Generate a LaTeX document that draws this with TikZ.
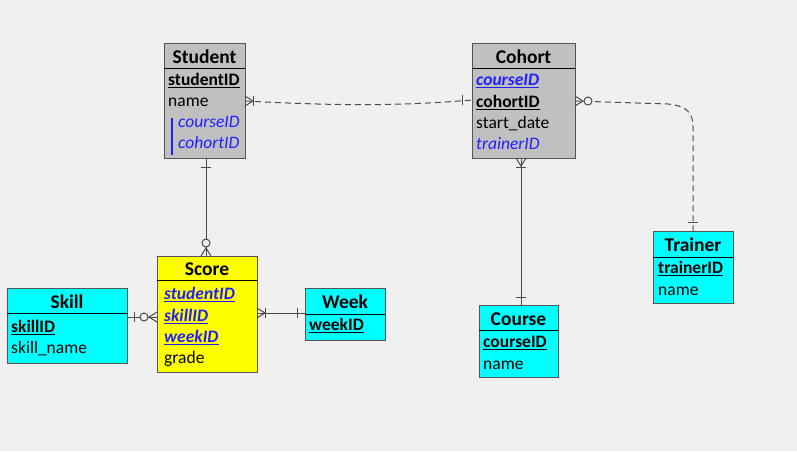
\documentclass[tikz,border=0pt]{standalone}
\usepackage{fontspec}
\setmainfont{Carlito}
\definecolor{bg}{HTML}{F0F0F0}
\definecolor{grayfill}{HTML}{C0C0C0}
\definecolor{cyanfill}{HTML}{00FFFF}
\definecolor{yellowfill}{HTML}{FFFF00}
\definecolor{fkblue}{HTML}{2020FF}
\definecolor{linegray}{HTML}{4A4A4A}
\definecolor{bordergray}{HTML}{555555}
\newcommand\keyul[1]{\setbox0\hbox{#1}\rlap{\usebox0}\rule[-3.2pt]{\wd0}{1.2pt}}
\newcommand\crowft[2]{\draw[conn,shift={(#1)},rotate=#2] (0,-5) -- (8,0) -- (0,5);}
\newcommand\erbar[3]{\draw[conn,shift={(#1)},rotate=#2] (#3,-5) -- (#3,5);}
\newcommand\ercirc[3]{\filldraw[conn,fill=bg,shift={(#1)},rotate=#2] (#3,0) circle[radius=4pt];}
\tikzset{
  tbl/.style={draw=bordergray, line width=1pt, anchor=north west, inner sep=0pt, outer sep=0pt},
  hdr/.style={anchor=base, font=\fontsize{19.5}{22}\selectfont\bfseries, inner sep=0pt},
  fld/.style={anchor=base west, font=\fontsize{17.5}{20}\selectfont, inner sep=0pt},
  hline/.style={draw=black, line width=1pt},
  conn/.style={draw=linegray, line width=1pt},
  dconn/.style={conn, dash pattern=on 6pt off 4pt},
  fk/.style={text=fkblue, font=\fontsize{17.5}{20}\selectfont\itshape},
  pfk/.style={text=fkblue, font=\fontsize{17.5}{20}\selectfont\bfseries\itshape},
  pk/.style={font=\fontsize{17.5}{20}\selectfont\bfseries}
}
\begin{document}
\begin{tikzpicture}[x=1pt,y=-1pt]
\fill[bg] (0,0) rectangle (797,451);
\useasboundingbox (0,0) rectangle (797,451);

% Student
\node[tbl, fill=grayfill, minimum width=81pt, minimum height=115pt] (student) at (164,43) {};
\draw[hline] (student.west |- 0,68) -- (student.east |- 0,68);
\node[hdr] (studenth) at (204.5,63) {Student};
\node[fld,pk] (st1) at (168,85) {\keyul{studentID}};
\node[fld] (st2) at (168,106) {name};
\node[fld,fk] (st3) at (178,127) {courseID};
\node[fld,fk] (st4) at (178,148) {cohortID};
\draw[fkblue, line width=2pt] (172,118) -- (172,155);

% Cohort
\node[tbl, fill=grayfill, minimum width=103pt, minimum height=115pt] (cohort) at (472,43) {};
\draw[hline] (cohort.west |- 0,68) -- (cohort.east |- 0,68);
\node[hdr] (cohorth) at (523.5,63) {Cohort};
\node[fld,pfk] (co1) at (476,85) {\keyul{courseID}};
\node[fld,pk] (co2) at (476,107) {\keyul{cohortID}};
\node[fld] (co3) at (476,128) {start\_date};
\node[fld,fk] (co4) at (476,149) {trainerID};

% Score
\node[tbl, fill=yellowfill, minimum width=100pt, minimum height=116pt] (score) at (157,256) {};
\draw[hline] (score.west |- 0,280.5) -- (score.east |- 0,280.5);
\node[hdr] (scoreh) at (207,275) {Score};
\node[fld,pfk] (sc1) at (164,299) {\keyul{studentID}};
\node[fld,pfk] (sc2) at (164,321) {\keyul{skillID}};
\node[fld,pfk] (sc3) at (164,342) {\keyul{weekID}};
\node[fld] (sc4) at (164,363) {grade};

% Skill
\node[tbl, fill=cyanfill, minimum width=120pt, minimum height=75pt] (skill) at (7,288) {};
\draw[hline] (skill.west |- 0,313) -- (skill.east |- 0,313);
\node[hdr] (skillh) at (67,308) {Skill};
\node[fld,pk] (sk1) at (11,332) {\keyul{skillID}};
\node[fld] (sk2) at (11,353) {skill\_name};

% Week
\node[tbl, fill=cyanfill, minimum width=80pt, minimum height=52pt] (week) at (305,288) {};
\draw[hline] (week.west |- 0,314) -- (week.east |- 0,314);
\node[hdr] (weekh) at (345,308) {Week};
\node[fld,pk] (wk1) at (309,330) {\keyul{weekID}};

% Course
\node[tbl, fill=cyanfill, minimum width=79pt, minimum height=72pt] (course) at (479,305) {};
\draw[hline] (course.west |- 0,330) -- (course.east |- 0,330);
\node[hdr] (courseh) at (518.5,325) {Course};
\node[fld,pk] (cs1) at (483,347) {\keyul{courseID}};
\node[fld] (cs2) at (483,369) {name};

% Trainer
\node[tbl, fill=cyanfill, minimum width=80pt, minimum height=72pt] (trainer) at (653,231) {};
\draw[hline] (trainer.west |- 0,257) -- (trainer.east |- 0,257);
\node[hdr] (trainerh) at (693,251) {Trainer};
\node[fld,pk] (tr1) at (658,273) {\keyul{trainerID}};
\node[fld] (tr2) at (658,295) {name};

% Student -- Cohort
\coordinate (a1) at (student.east |- 0,101);
\coordinate (a2) at (cohort.west |- 0,100);
\draw[dconn] (a1) .. controls (340,106) and (400,106) .. (a2);
\crowft{a1}{0}
\erbar{a1}{0}{8}
\erbar{a2}{180}{10}

% Cohort -- Trainer
\coordinate (b1) at (cohort.east |- 0,101);
\coordinate (b2) at (trainer.north);
\draw[dconn] (b1) -- (668,104) .. controls (688,106) and (693,114) .. (693,127) -- (b2);
\crowft{b1}{0}
\ercirc{b1}{0}{13}
\erbar{b2}{90}{9}

% Cohort -- Course
\coordinate (c1) at (521,0 |- cohort.south);
\coordinate (c2) at (521,0 |- course.north);
\draw[conn] (c1) -- (c2);
\crowft{c1}{-90}
\erbar{c1}{-90}{9}
\erbar{c2}{90}{8}

% Student -- Score
\coordinate (d1) at (206,0 |- student.south);
\coordinate (d2) at (206,0 |- score.north);
\draw[conn] (d1) -- (d2);
\erbar{d1}{-90}{9}
\crowft{d2}{90}
\ercirc{d2}{90}{13}

% Skill -- Score
\coordinate (e1) at (skill.east |- 0,317);
\coordinate (e2) at (score.west |- 0,317);
\draw[conn] (e1) -- (e2);
\erbar{e1}{0}{7}
\crowft{e2}{180}
\ercirc{e2}{180}{13}

% Score -- Week
\coordinate (f1) at (score.east |- 0,313);
\coordinate (f2) at (week.west |- 0,313);
\draw[conn] (f1) -- (f2);
\crowft{f1}{0}
\erbar{f1}{0}{8}
\erbar{f2}{180}{8}
\end{tikzpicture}
\end{document}
